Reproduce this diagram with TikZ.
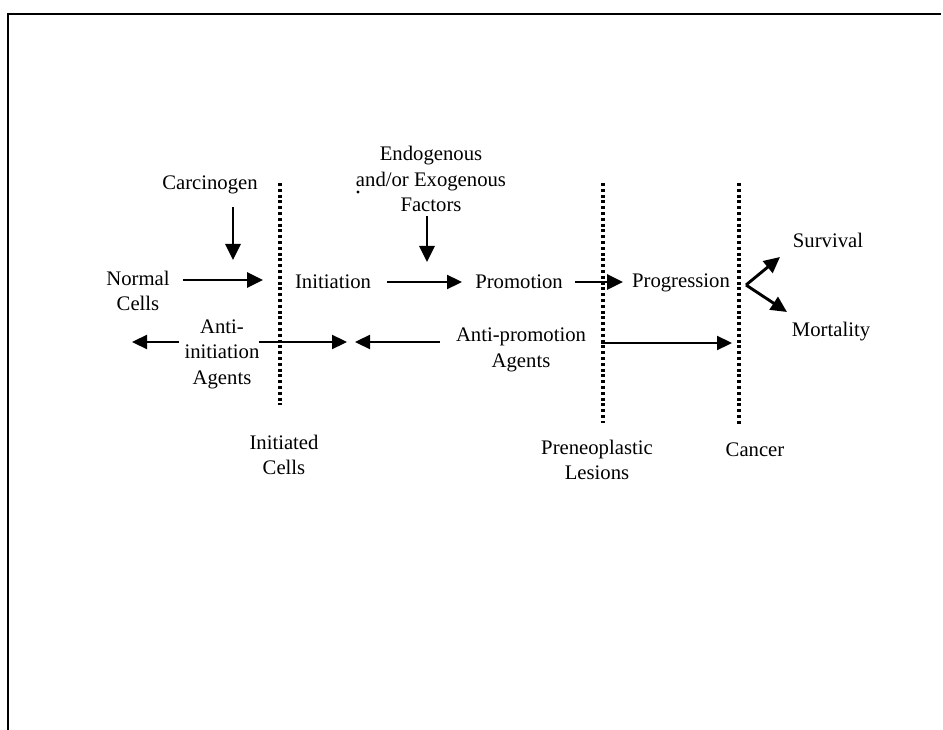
\documentclass[tikz,border=0pt]{standalone}
\usepackage{fontspec}
\setmainfont{Liberation Serif}
\usetikzlibrary{arrows.meta}
\begin{document}
\begin{tikzpicture}[x=1pt,y=-1pt,
  lbl/.style={inner sep=0pt,align=center,font=\fontsize{20.7}{25.5}\selectfont},
  arr/.style={line width=2.9pt,-{Triangle[length=16pt,width=15pt]}},
  thinarr/.style={line width=2.3pt,-{Triangle[length=15pt,width=14pt]}},
  dotline/.style={line width=3.4pt,dash pattern=on 3pt off 2.8pt},
  frame/.style={line width=2pt}]
\useasboundingbox (0,0) rectangle (943,730);
% frame
\coordinate (fb) at (8,730);
\coordinate (fc) at (8,14);
\coordinate (fr) at (941,14);
\draw[frame] (fb) -- (fc) -- (fr);

% labels
\node[lbl] (normal) at (138,291) {Normal\\Cells};
\node[lbl] (carc) at (210,185) {Carcinogen};
\node[lbl] (init) at (333,282) {Initiation};
\node[lbl] (endo) at (431,179) {Endogenous\\and/or Exogenous\\Factors};
\node[lbl] (prom) at (519,282) {Promotion};
\node[lbl] (prog) at (681,283) {Progression};
\node[lbl] (surv) at (828,240) {Survival};
\node[lbl] (mort) at (831,332) {Mortality};
\node[lbl] (antiinit) at (222,354) {Anti-\\initiation\\Agents};
\node[lbl] (antiprom) at (521,350) {Anti-promotion\\Agents};
\node[lbl] (initcells) at (284,455) {Initiated\\Cells};
\node[lbl] (prelesion) at (597,460) {Preneoplastic\\Lesions};
\node[lbl] (cancer) at (755,450) {Cancer};

% dotted separators
\coordinate (d1t) at (280,183); \coordinate (d1b) at (280,405);
\coordinate (d2t) at (603,183); \coordinate (d2b) at (603,423);
\coordinate (d3t) at (739,183); \coordinate (d3b) at (739,425);
\draw[dotline] (d1t) -- (d1b);
\draw[dotline] (d2t) -- (d2b);
\draw[dotline] (d3t) -- (d3b);

% arrow end points
\coordinate (a1s) at (183,280); \coordinate (a1e) at (263,280);
\coordinate (c1s) at (233,207); \coordinate (c1e) at (233,260);
\coordinate (a2s) at (387,282); \coordinate (a2e) at (462,282);
\coordinate (f1s) at (427,216); \coordinate (f1e) at (427,262);
\coordinate (a3s) at (575,282); \coordinate (a3e) at (623,282);
\coordinate (vx) at (746,285);
\coordinate (vs) at (780,257); \coordinate (vm) at (787,312);
\coordinate (b1s) at (179,342); \coordinate (b1e) at (132,342);
\coordinate (b2s) at (259,342); \coordinate (b2e) at (347,342);
\coordinate (b3s) at (440,342); \coordinate (b3e) at (355,342);
\coordinate (b4s) at (601,343); \coordinate (b4e) at (732,343);

\draw[arr] (a1s) -- (a1e);
\draw[arr] (c1s) -- (c1e);
\draw[thinarr] (a2s) -- (a2e);
\draw[arr] (f1s) -- (f1e);
\draw[arr] (a3s) -- (a3e);
\draw[arr] (vx) -- (vs);
\draw[arr] (vx) -- (vm);
\draw[thinarr] (b1s) -- (b1e);
\draw[thinarr] (b2s) -- (b2e);
\draw[thinarr] (b3s) -- (b3e);
\draw[thinarr] (b4s) -- (b4e);

% stray speck
\coordinate (speck) at (358,192);
\fill (speck) circle (1.6);
\end{tikzpicture}
\end{document}
